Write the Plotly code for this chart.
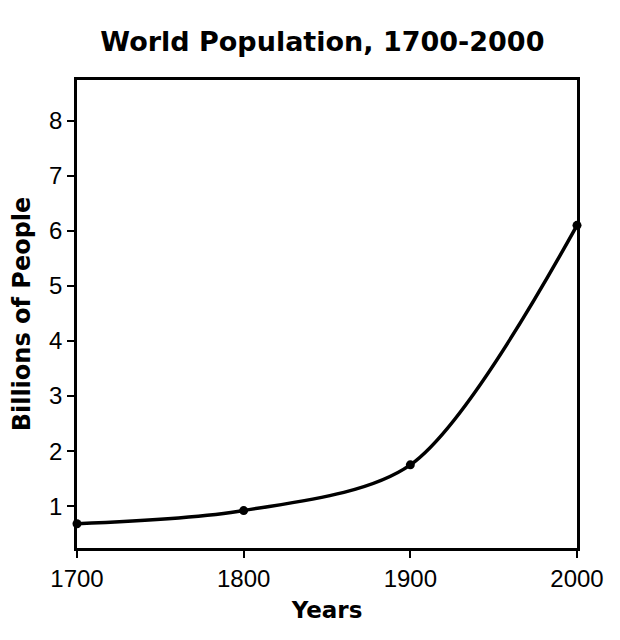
import plotly.graph_objects as go

years = [1700, 1800, 1900, 2000]
population = [0.68, 0.92, 1.75, 6.1]
x_ticks = [1700, 1800, 1900, 2000]
y_ticks = [1, 2, 3, 4, 5, 6, 7, 8]

fig = go.Figure()
fig.add_trace(go.Scatter(
    x=years, y=population, mode="lines+markers",
    line=dict(color="black", width=3.5, shape="spline", smoothing=0.85),
    marker=dict(color="black", size=9),
    cliponaxis=False, showlegend=False,
))

tick_font = dict(family="Liberation Sans, Arial, sans-serif", size=24, color="black")

fig.update_layout(
    width=620, height=640,
    margin=dict(l=77, r=43, t=80, b=92),
    paper_bgcolor="white", plot_bgcolor="white",
    title=dict(text="<b>World Population, 1700-2000</b>",
               font=dict(family="DejaVu Sans, Verdana, sans-serif", size=27, color="black"),
               x=0.52, xanchor="center", y=0.935, yanchor="middle"),
    xaxis=dict(range=[1700, 2000], tickvals=x_ticks, ticks="outside", ticklen=7,
               tickwidth=2, tickcolor="black", showline=True, linecolor="black",
               linewidth=2.5, mirror=True, showgrid=False, zeroline=False,
               tickfont=tick_font,
               title=dict(text="<b>Years</b>",
                          font=dict(family="DejaVu Sans, Verdana, sans-serif", size=23, color="black"),
                          standoff=12)),
    yaxis=dict(range=[0.24, 8.74], tickvals=y_ticks, ticks="outside", ticklen=7,
               tickwidth=2, tickcolor="black", showline=True, linecolor="black",
               linewidth=2.5, mirror=True, showgrid=False, zeroline=False,
               tickfont=tick_font,
               title=dict(text="<b>Billions of People</b>",
                          font=dict(family="DejaVu Sans, Verdana, sans-serif", size=24, color="black"),
                          standoff=12)),
)

fig.write_html("out.html")
